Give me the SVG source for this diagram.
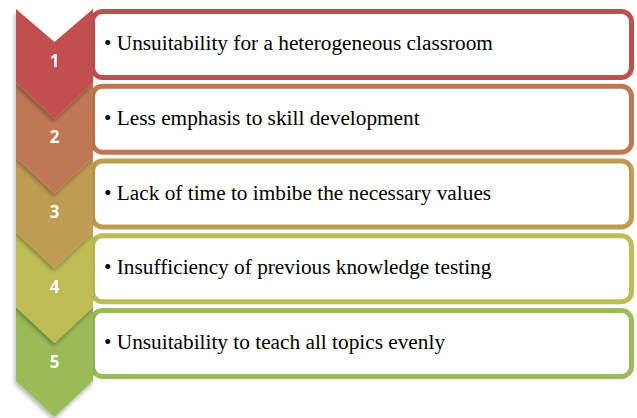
<svg xmlns="http://www.w3.org/2000/svg" width="637" height="418" viewBox="0 0 637 418">
  <defs>
    <filter id="shadow" x="-20%" y="-20%" width="140%" height="140%">
      <feGaussianBlur in="SourceAlpha" stdDeviation="2"/>
      <feOffset dx="-1" dy="3" result="b"/>
      <feComponentTransfer><feFuncA type="linear" slope="0.3"/></feComponentTransfer>
      <feMerge><feMergeNode/><feMergeNode in="SourceGraphic"/></feMerge>
    </filter>
  </defs>
  <style>
    .box { fill: #ffffff; stroke-width: 5; }
    .label { font-family: "Liberation Serif", "Times New Roman", serif; font-size: 21.3px; fill: #000000; }
    .num { font-family: "Open Sans", "Liberation Sans", sans-serif; font-weight: bold; font-size: 17px; fill: #ffffff; text-anchor: middle; }
  </style>
  <rect width="637" height="418" fill="#ffffff"/>

  <!-- text boxes (left edges sit under the chevrons) -->
  <g id="box1"><rect class="box" x="92.5" y="11.5" width="539" height="66" rx="10" stroke="#C0504D"/>
    <text class="label" x="104" y="50">• Unsuitability for a heterogeneous classroom</text></g>
  <g id="box2"><rect class="box" x="92.5" y="86.25" width="539" height="66" rx="10" stroke="#BF7852"/>
    <text class="label" x="104" y="124.75">• Less emphasis to skill development</text></g>
  <g id="box3"><rect class="box" x="92.5" y="161" width="539" height="66" rx="10" stroke="#BF9C52"/>
    <text class="label" x="104" y="199.5">• Lack of time to imbibe the necessary values</text></g>
  <g id="box4"><rect class="box" x="92.5" y="235.75" width="539" height="66" rx="10" stroke="#BEBD55"/>
    <text class="label" x="104" y="274.25">• Insufficiency of previous knowledge testing</text></g>
  <g id="box5"><rect class="box" x="92.5" y="310.5" width="539" height="66" rx="10" stroke="#9BBB59"/>
    <text class="label" x="104" y="349">• Unsuitability to teach all topics evenly</text></g>

  <!-- chevrons, drawn bottom-up so each tip overlaps the next notch -->
  <g id="chev5" filter="url(#shadow)"><polygon points="16,307 54.5,343 93,307 93,381 54.5,417 16,381" fill="#9BBB59"/>
    <text class="num" x="54.5" y="368">5</text></g>
  <g id="chev4" filter="url(#shadow)"><polygon points="16,232.25 54.5,268.25 93,232.25 93,307 54.5,343 16,307" fill="#BEBD55"/>
    <text class="num" x="54.5" y="293">4</text></g>
  <g id="chev3" filter="url(#shadow)"><polygon points="16,157.5 54.5,193.5 93,157.5 93,232.25 54.5,268.25 16,232.25" fill="#BF9C52"/>
    <text class="num" x="54.5" y="217.5">3</text></g>
  <g id="chev2" filter="url(#shadow)"><polygon points="16,82.75 54.5,118.75 93,82.75 93,157.5 54.5,193.5 16,157.5" fill="#BF7852"/>
    <text class="num" x="54.5" y="142.5">2</text></g>
  <g id="chev1" filter="url(#shadow)"><polygon points="16,9 54.5,42 93,9 93,82.75 54.5,118.75 16,82.75" fill="#C0504D"/>
    <text class="num" x="54.5" y="67">1</text></g>
</svg>
